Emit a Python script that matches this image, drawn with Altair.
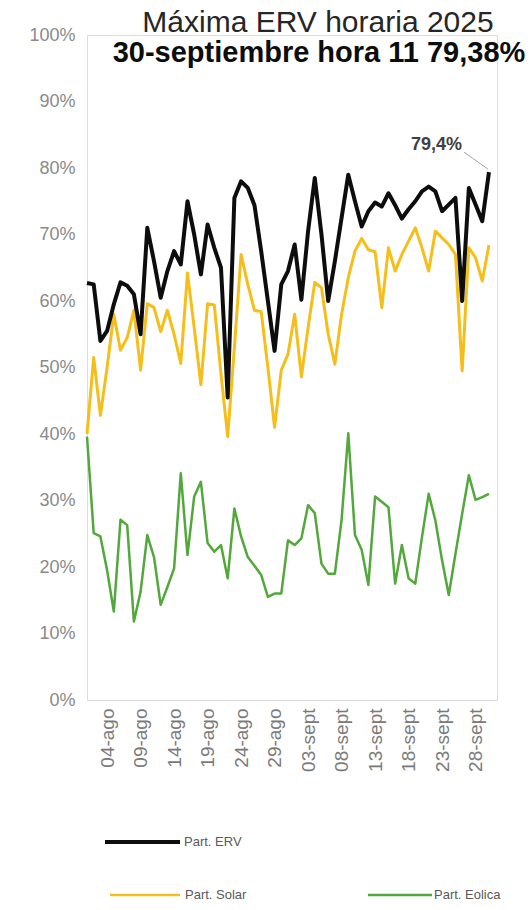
import altair as alt
import pandas as pd

# ---------------- data ----------------
fechas = [f"{d:02d}-ago" for d in range(1, 32)] + [f"{d:02d}-sept" for d in range(1, 31)]
etiquetas_x = ["04-ago", "09-ago", "14-ago", "19-ago", "24-ago", "29-ago",
               "03-sept", "08-sept", "13-sept", "18-sept", "23-sept", "28-sept"]

erv = [62.7, 62.5, 54.0, 55.5, 59.5, 62.8, 62.3, 61.0, 55.0, 71.0,
       66.0, 60.5, 64.5, 67.5, 65.5, 75.0, 70.0, 64.0, 71.5, 68.0,
       65.0, 45.5, 75.5, 78.0, 77.0, 74.4, 67.5, 60.0, 52.5, 62.5,
       64.5, 68.5, 60.2, 70.5, 78.5, 70.0, 60.0, 66.0, 72.5, 79.0,
       75.0, 71.2, 73.5, 74.8, 74.2, 76.2, 74.4, 72.4, 73.8, 75.0,
       76.5, 77.2, 76.5, 73.5, 74.5, 75.5, 60.0, 77.0, 74.5, 72.0, 79.38]

solar = [40.0, 51.5, 42.8, 50.0, 58.0, 52.6, 54.5, 58.6, 49.6, 59.6,
         59.0, 55.4, 58.6, 55.0, 50.6, 64.2, 56.0, 47.4, 59.6, 59.4,
         49.0, 39.6, 53.0, 67.0, 62.5, 58.6, 58.4, 50.0, 41.0, 49.6,
         52.0, 58.0, 48.6, 56.0, 62.8, 62.0, 55.0, 50.5, 58.0, 63.5,
         67.5, 69.4, 67.7, 67.4, 59.0, 68.0, 64.5, 67.0, 69.0, 71.0,
         68.0, 64.5, 70.5, 69.5, 68.5, 67.0, 49.5, 68.0, 66.5, 63.0, 68.4]

eolica = [39.6, 25.1, 24.6, 19.5, 13.3, 27.1, 26.3, 11.8, 16.3, 24.8,
          21.5, 14.3, 17.0, 19.8, 34.1, 21.8, 30.6, 32.8, 23.6, 22.3,
          23.3, 18.3, 28.8, 24.6, 21.5, 20.2, 18.8, 15.5, 16.0, 16.0,
          24.0, 23.3, 24.3, 29.3, 28.1, 20.5, 19.0, 19.0, 27.1, 40.1,
          24.8, 22.6, 17.3, 30.6, 29.8, 29.0, 17.5, 23.3, 18.3, 17.5,
          24.5, 31.0, 27.0, 21.0, 15.8, 22.0, 28.0, 33.8, 30.1, 30.5, 31.0]

series = ["Part. ERV", "Part. Solar", "Part. Eolica"]
colores = ["#0d0d0d", "#F6BE1A", "#52A83A"]
titulo1 = "Máxima ERV horaria 2025"
titulo2 = "30-septiembre hora 11 79,38%"

# ---------------- layout constants ----------------
W, H = 410, 665
FONT = "Liberation Sans"

rows = []
for s, vals in zip(series, [erv, solar, eolica]):
    for f, v in zip(fechas, vals):
        rows.append({"fecha": f, "serie": s, "valor": v})
df = pd.DataFrame(rows)

color_scale = alt.Scale(domain=series, range=colores)

x_enc = alt.X("fecha:O", sort=fechas,
              scale=alt.Scale(type="point", padding=0.6, align=0),
              axis=alt.Axis(values=etiquetas_x, labelAngle=-90, title=None, grid=False,
                            ticks=False, domain=True, domainColor="#d9d9d9",
                            labelFontSize=19, labelColor="#7a7a7a", labelPadding=8))
y_enc = alt.Y("valor:Q", scale=alt.Scale(domain=[0, 100], nice=False),
              axis=alt.Axis(values=list(range(0, 101, 10)), labelExpr="datum.value + '%'",
                            title=None, ticks=False, domain=False, grid=False,
                            labelFontSize=18, labelColor="#8a8a8a", labelPadding=12))
c_enc = alt.Color("serie:N", scale=color_scale, legend=None)

widths = {"Part. ERV": 4, "Part. Solar": 3, "Part. Eolica": 2.5}
layers = []
for s in ["Part. Eolica", "Part. Solar", "Part. ERV"]:
    layers.append(
        alt.Chart(df).transform_filter(alt.datum.serie == s)
        .mark_line(strokeWidth=widths[s], strokeJoin="round")
        .encode(x=x_enc, y=y_enc, color=c_enc)
    )

# annotation of last point
last = alt.Chart(df).transform_filter(
    (alt.datum.serie == "Part. ERV") & (alt.datum.fecha == "30-sept"))
ann_text = last.transform_calculate(
    lbl="replace(format(datum.valor, '.1f'), '.', ',') + '%'"
).mark_text(align="right", baseline="alphabetic", dx=-27, dy=-22, fontSize=18,
            fontWeight="bold", color="#404040").encode(x=x_enc, y=y_enc, text="lbl:N")
ann_rule = last.mark_rule(xOffset=-25, yOffset=-20, x2Offset=-1, y2Offset=-3,
                          color="#a6a6a6", strokeWidth=1).encode(
    x=x_enc, y=y_enc, x2="fecha:O", y2="valor:Q")
layers += [ann_rule, ann_text]

# title
t1 = alt.Chart(pd.DataFrame({"t": [titulo1]})).mark_text(
    align="center", baseline="alphabetic", fontSize=30, color="#262626"
).encode(x=alt.value(231), y=alt.value(-3), text="t:N")
t2 = alt.Chart(pd.DataFrame({"t": [titulo2]})).mark_text(
    align="center", baseline="alphabetic", fontSize=29, fontWeight="bold", color="#0d0d0d"
).encode(x=alt.value(232), y=alt.value(27), text="t:N")
layers += [t1, t2]

# manual legend (ERV on first row, Solar and Eolica on second)
leg_pos = [("Part. ERV", 18, 93, 807, 97, 4),
           ("Part. Solar", 23, 93, 860, 98, 2.5),
           ("Part. Eolica", 281, 345, 860, 347, 2.5)]
for s, x1, x2, yy, xt, sw in leg_pos:
    d = pd.DataFrame({"serie": [s]})
    layers.append(alt.Chart(d).mark_rule(strokeWidth=sw).encode(
        x=alt.value(x1), x2=alt.value(x2), y=alt.value(yy), color=c_enc))
    layers.append(alt.Chart(d).mark_text(align="left", baseline="middle", fontSize=13,
                                         color="#595959").encode(
        x=alt.value(xt), y=alt.value(yy), text="serie:N"))

chart = alt.layer(*layers).properties(
    width=W, height=H, autosize="none",
    padding={"left": 87, "top": 35, "right": 35, "bottom": 210}
).configure_view(stroke=None).configure_axis(grid=False).configure(font=FONT)

chart.save("out.html", embed_options={"renderer": "svg", "actions": False})
